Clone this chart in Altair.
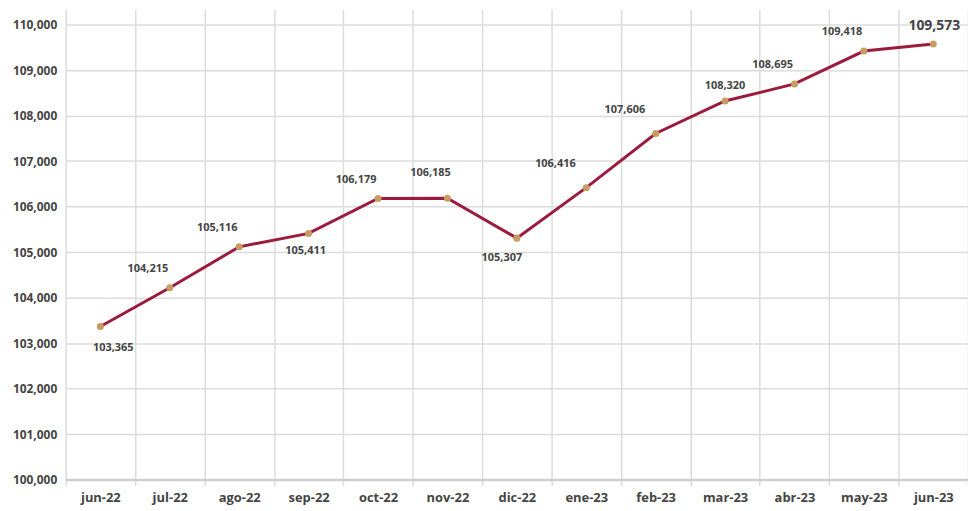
import altair as alt
import pandas as pd

months = ["jun-22", "jul-22", "ago-22", "sep-22", "oct-22", "nov-22", "dic-22",
          "ene-23", "feb-23", "mar-23", "abr-23", "may-23", "jun-23"]
values = [103365, 104215, 105116, 105411, 106179, 106185, 105307,
          106416, 107606, 108320, 108695, 109418, 109573]
y_ticks = [100000, 101000, 102000, 103000, 104000, 105000, 106000,
           107000, 108000, 109000, 110000]

df = pd.DataFrame({"mes": months, "valor": values})

FONT = "Open Sans"
LINE = "#9B1B3F"
DOT = "#C69C62"
TXT = "#444444"

x = alt.X("mes:N", sort=months, title=None,
          scale=alt.Scale(paddingInner=0, paddingOuter=0),
          axis=alt.Axis(tickBand="extent", labelAngle=0, grid=True,
                        gridColor="#dcdcdc", gridWidth=1.5,
                        domainColor="#cfcfcf", domainWidth=2.5,
                        tickColor="#dcdcdc", tickSize=6, tickWidth=1.5,
                        labelPadding=6, labelFont=FONT, labelFontSize=13,
                        labelFontWeight="bold", labelColor=TXT))
y = alt.Y("valor:Q", title=None,
          scale=alt.Scale(domain=[100000, 110330], nice=False, zero=False),
          axis=alt.Axis(values=y_ticks, format=",.0f", grid=True,
                        gridColor="#dcdcdc", gridWidth=1.5, domain=False,
                        ticks=False, labelPadding=9, labelFont=FONT,
                        labelFontSize=12, labelFontWeight="bold",
                        labelColor=TXT))

base = alt.Chart(df)

line = base.mark_line(color=LINE, strokeWidth=3).encode(x=x, y=y)
pts = base.mark_circle(color=DOT, size=50, opacity=1).encode(x=x, y=y)


def labels(sel, dx, dy, size=11):
    return base.transform_filter(
        alt.FieldOneOfPredicate(field="mes", oneOf=sel)
    ).mark_text(font=FONT, fontSize=size, fontWeight="bold", color=TXT,
                dx=dx, dy=dy).encode(
        x=x, y=y,
        text=alt.Text("valor:Q", format=","))


layers = [
    line, pts,
    labels(["jul-22", "ago-22", "oct-22", "abr-23", "may-23"], -22, -19),
    labels(["nov-22"], -17, -25),
    labels(["ene-23", "feb-23"], -31, -24),
    labels(["mar-23"], 0, -15),
    labels(["jun-22"], 13, 22),
    labels(["sep-22"], -3, 18),
    labels(["dic-22"], -15, 20),
    labels(["jun-23"], 1, -18, 14),
]

chart = alt.layer(*layers).properties(
    width=908, height=473,
    padding={"left": 58, "top": 0, "right": 0, "bottom": 28},
    autosize=alt.AutoSizeParams(type="none"),
).configure_view(stroke=None)

chart.save("out.html", embed_options={"renderer": "svg", "actions": False})
